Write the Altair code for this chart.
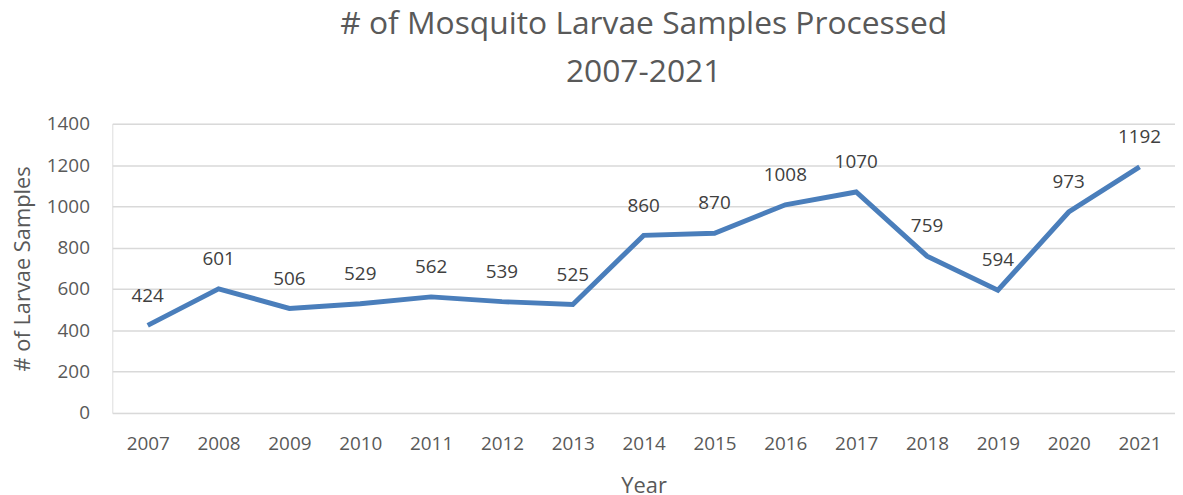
import altair as alt
import pandas as pd

years = [2007, 2008, 2009, 2010, 2011, 2012, 2013, 2014, 2015, 2016, 2017, 2018, 2019, 2020, 2021]
samples = [424, 601, 506, 529, 562, 539, 525, 860, 870, 1008, 1070, 759, 594, 973, 1192]

df = pd.DataFrame({"year": years, "samples": samples})

FONT = "Open Sans"
W, H = 1070, 291

x = alt.X("year:Q",
          scale=alt.Scale(domain=[2006.5, 2021.5], nice=False, zero=False),
          axis=alt.Axis(values=years, format="d", title="Year", grid=False, ticks=False,
                        domain=False, labelFontSize=19, labelColor="#595959",
                        labelPadding=22, labelFlush=False, titleFontSize=22, titleColor="#595959",
                        titleFontWeight="normal", titlePadding=22, labelFont=FONT, titleFont=FONT))
y = alt.Y("samples:Q",
          scale=alt.Scale(domain=[0, 1400], nice=False),
          axis=alt.Axis(values=list(range(0, 1401, 200)), format="d", title="# of Larvae Samples",
                        ticks=False, domain=False, gridColor="#d9d9d9", gridWidth=1.5,
                        labelFontSize=19, labelColor="#595959", labelPadding=23,
                        titleFontSize=22, titleColor="#595959", titleFontWeight="normal",
                        titlePadding=12, labelFont=FONT, titleFont=FONT))

base = alt.Chart(df)
line = base.mark_line(color="#4a7ebb", strokeWidth=5, strokeJoin="miter").encode(x=x, y=y)
labels = base.mark_text(
    fontSize=19, color="#404040", dy=-30, font=FONT).encode(x="year:Q", y="samples:Q", text="samples:Q")

chart = (line + labels).properties(
    width=W, height=H,
    title=alt.TitleParams(["# of Mosquito Larvae Samples Processed", "2007-2021"],
                          fontSize=32, font=FONT, fontWeight="normal", color="#595959",
                          anchor="middle", lineHeight=48, offset=26),
    autosize=alt.AutoSizeParams(type="none"),
    padding={"left": 105, "top": 115, "right": 0, "bottom": 80},
).configure_view(stroke=None).configure(background="white")

chart.save("out.html", embed_options={"renderer": "svg", "actions": False})
